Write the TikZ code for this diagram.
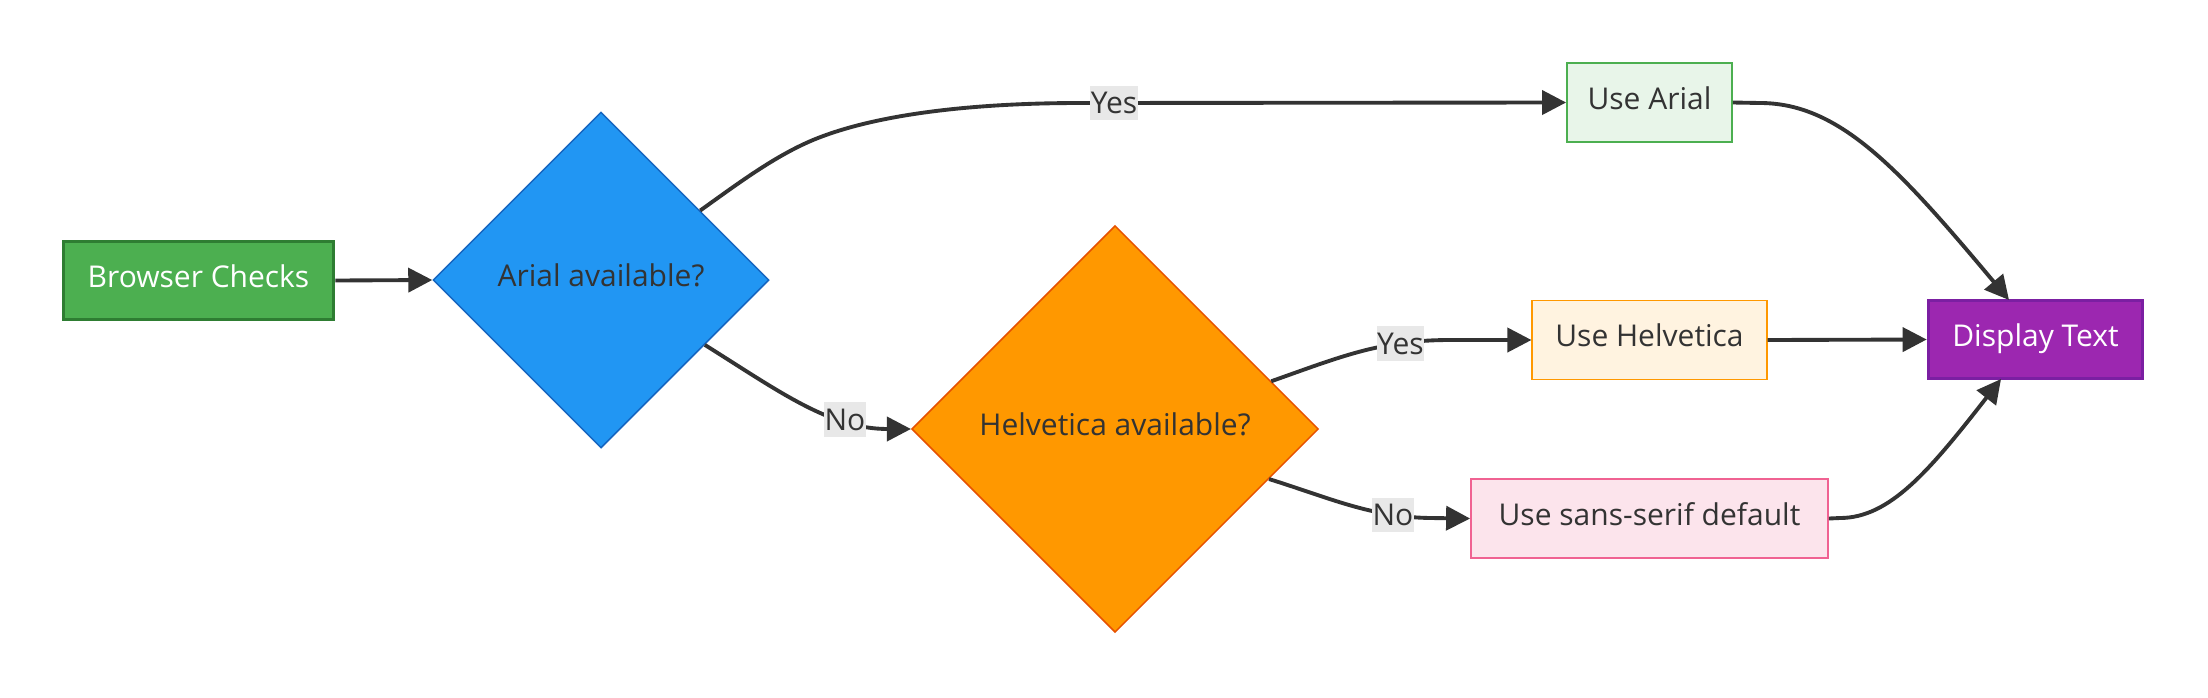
\documentclass[tikz,border=0pt]{standalone}
\usepackage{fontspec}
\setmainfont{Open Sans}
\usetikzlibrary{shapes.geometric,arrows.meta}
\definecolor{ink}{HTML}{333333}
\definecolor{lblbg}{HTML}{E8E8E8}
\definecolor{gfill}{HTML}{4CAF50}
\definecolor{gline}{HTML}{2E7D32}
\definecolor{bfill}{HTML}{2196F3}
\definecolor{bline}{HTML}{1565C0}
\definecolor{ofill}{HTML}{FF9800}
\definecolor{oline}{HTML}{E65100}
\definecolor{lgfill}{HTML}{E8F5E9}
\definecolor{lofill}{HTML}{FFF3E0}
\definecolor{pfill}{HTML}{9C27B0}
\definecolor{pline}{HTML}{7B1FA2}
\definecolor{pkfill}{HTML}{FCE4EC}
\definecolor{pkline}{HTML}{F06292}
\tikzset{
  txt/.style={font=\fontsize{22.5}{27}\selectfont, text=ink},
  box/.style={txt, rectangle, minimum height=59pt, inner sep=0pt, line width=1.1pt,
    text height=17.5pt, text depth=7.3pt},
  thickbox/.style={box, line width=2.25pt, text=white},
  dia/.style={txt, diamond, aspect=1, inner sep=0pt, line width=1.1pt,
    text height=17.5pt, text depth=7.3pt},
  conn/.style={draw=ink, line width=2.9pt, -{Triangle[length=18pt,width=18pt]}},
  lbl/.style={txt, fill=lblbg, inner xsep=0.5pt, inner ysep=3.6pt,
    text height=17.5pt, text depth=1.3pt, pos=#1},
}
\begin{document}
\begin{tikzpicture}[x=0.75pt,y=-0.75pt]
\useasboundingbox (0,0) rectangle (2208,697);
\node[thickbox, fill=gfill, draw=gline, minimum width=203pt] (browser) at (198.5,280.5) {Browser Checks};
\node[dia, fill=bfill, draw=bline, minimum width=252pt, minimum height=252pt] (arial) at (601,280) {Arial available?};
\node[dia, fill=ofill, draw=oline, minimum width=305pt, minimum height=305pt] (helv) at (1115,429) {Helvetica available?};
\node[box, fill=lgfill, draw=gfill, minimum width=124pt] (usearial) at (1649.5,102.5) {Use Arial};
\node[box, fill=lofill, draw=ofill, minimum width=176pt] (usehelv) at (1649.5,340) {Use Helvetica};
\node[box, fill=pkfill, draw=pkline, minimum width=268pt] (usesans) at (1649.5,518.5) {Use sans-serif default};
\node[thickbox, fill=pfill, draw=pline, minimum width=161pt] (display) at (2035.5,339.5) {Display Text};
\coordinate (dtop) at (2009,300);
\coordinate (dbot) at (2001,379);

\draw[conn] (browser.east) -- (arial.west);
\draw[conn] (arial.35) .. controls (740,182) and (775,156) .. (813,140)
  .. controls (883,111) and (990,103) .. (1080,103)
  -- node[lbl=0.07] {Yes} (usearial.west);
\draw[conn] (arial.-32) .. controls (780,392) and (830,429) .. node[lbl=0.7] {No} (helv.west);
\draw[conn] (helv.17) .. controls (1340,357) and (1380,340) .. node[lbl=0.74] {Yes} (1450,340) -- (usehelv.west);
\draw[conn] (helv.-18) .. controls (1330,498) and (1370,517) .. node[lbl=0.78] {No} (1430,518) -- (usesans.west);
\draw[conn] (usearial.east) -- (1760,103) .. controls (1840,103) and (1900,170) .. (dtop);
\draw[conn] (usehelv.east) -- (display.west);
\draw[conn] (usesans.east) -- (1840,518) .. controls (1890,518) and (1930,470) .. (dbot);
\end{tikzpicture}
\end{document}
